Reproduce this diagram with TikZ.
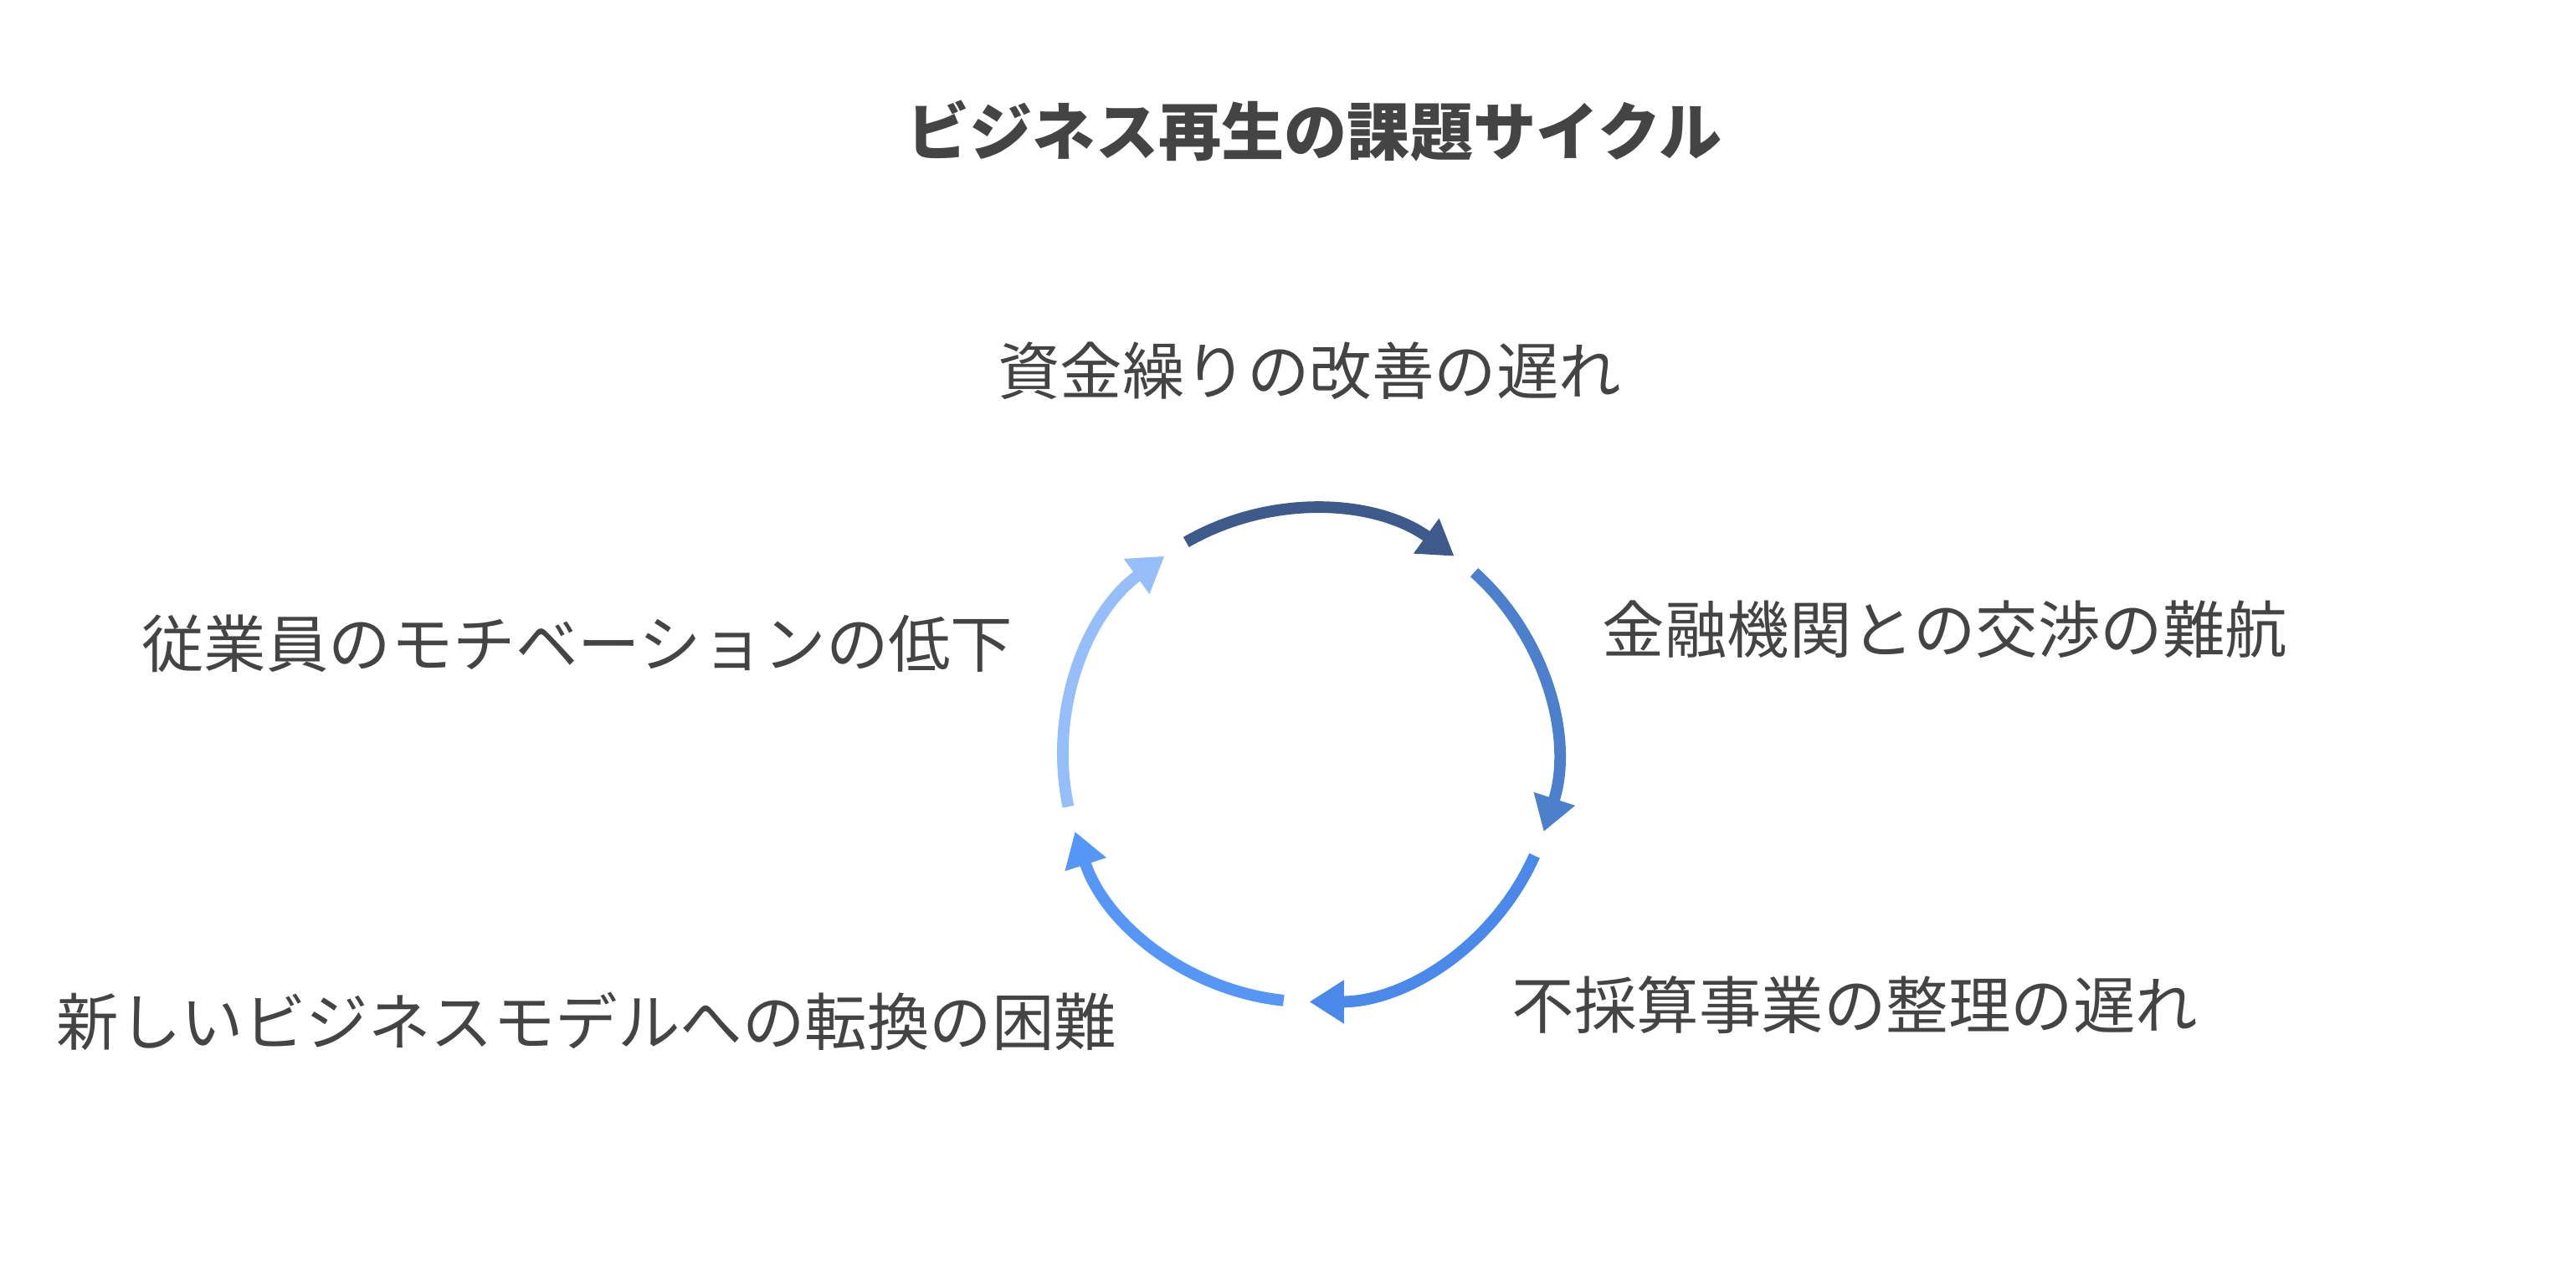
\documentclass[tikz,border=0pt]{standalone}
\usepackage{fontspec}
\newfontfamily\cjk{Noto Sans CJK JP}
\usetikzlibrary{arrows.meta}
\definecolor{txt}{HTML}{444444}
\definecolor{arcA}{HTML}{3D5A8A}
\definecolor{arcB}{HTML}{4C7FCC}
\definecolor{arcC}{HTML}{4A88EA}
\definecolor{arcD}{HTML}{5596F6}
\definecolor{arcE}{HTML}{95BEFA}
\tikzset{
	lbl/.style={text=txt, font=\cjk\fontsize{21.6}{26}\selectfont, inner sep=0pt},
	cyc/.style={line width=4pt, -{Triangle[length=0.42cm,width=0.5cm]}}
}
\begin{document}
\begin{tikzpicture}[x=0.02cm,y=-0.02cm]
	\useasboundingbox (0,0) rectangle (1568,770);
	
	% Title
	\node[lbl, font=\cjk\bfseries\fontsize{21.8}{26}\selectfont] (title) at (800,80) {ビジネス再生の課題サイクル};
	
	% Stages
	\node[lbl] (cash) at (797,226) {資金繰りの改善の遅れ};
	\node[lbl, anchor=west] (bank) at (975,383) {金融機関との交渉の難航};
	\node[lbl, anchor=west] (loss) at (920,612) {不採算事業の整理の遅れ};
	\node[lbl, anchor=east] (model) at (680,622) {新しいビジネスモデルへの転換の困難};
	\node[lbl, anchor=east] (staff) at (617,392) {従業員のモチベーションの低下};
	
	% Cycle arcs
	\begin{scope}[y=0.02cm]
		\coordinate (ctr) at (797,-460);
		\foreach \c/\col in {90/arcA, 18/arcB, -54/arcC, -126/arcD, -198/arcE}{
			\draw[cyc, \col] ([shift={(\c+30:150)}] ctr) arc[start angle=\c+30, end angle=\c-36, radius=150];
		}
	\end{scope}
	
\end{tikzpicture}
\end{document}
